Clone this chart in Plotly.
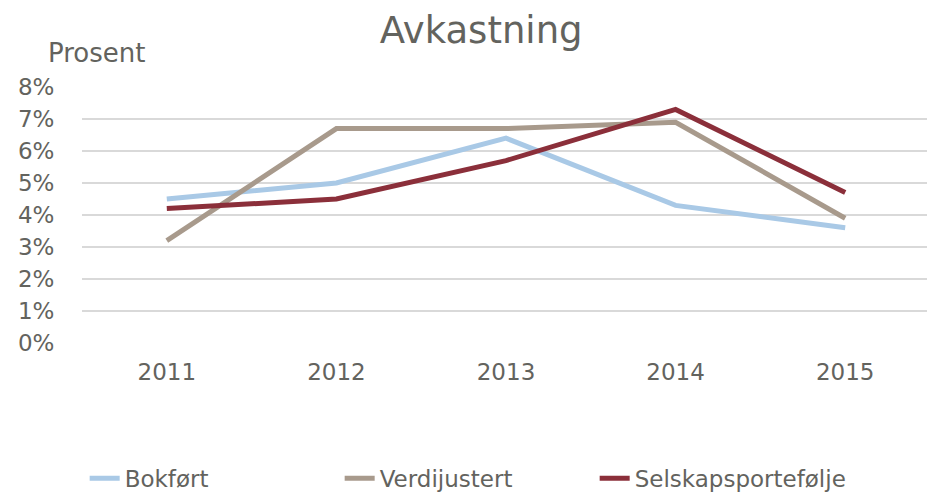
import plotly.graph_objects as go

years = ["2011", "2012", "2013", "2014", "2015"]
bokfort = [4.5, 5.0, 6.4, 4.3, 3.6]
verdijustert = [3.2, 6.7, 6.7, 6.9, 3.9]
selskap = [4.2, 4.5, 5.7, 7.3, 4.7]
y_ticks = [0, 1, 2, 3, 4, 5, 6, 7, 8]
y_labels = [f"{v}%" for v in y_ticks]

text_color = "#63635E"
font = "DejaVu Sans"

fig = go.Figure()
fig.add_trace(go.Scatter(x=years, y=bokfort, name="Bokført", mode="lines",
                         line=dict(color="#A9C9E6", width=5)))
fig.add_trace(go.Scatter(x=years, y=verdijustert, name="Verdijustert", mode="lines",
                         line=dict(color="#A89A8C", width=5)))
fig.add_trace(go.Scatter(x=years, y=selskap, name="Selskapsportefølje", mode="lines",
                         line=dict(color="#8B2F3A", width=5)))

# the page has an 8px body margin, so the figure is shifted to make up for it
fig.update_layout(
    width=935, height=495,
    margin=dict(l=74, r=13, t=79, b=160, autoexpand=False),
    paper_bgcolor="white", plot_bgcolor="white",
    font=dict(family=font, size=23, color=text_color),
    title=dict(text="Avkastning", x=0.506, xanchor="center", y=0.955, yanchor="middle",
               font=dict(size=37, color=text_color)),
    legend=dict(orientation="h", xref="container", x=0.082, xanchor="left",
                yref="container", y=0.050, yanchor="middle",
                font=dict(size=23, color=text_color), entrywidth=210),
    showlegend=True,
    annotations=[dict(text="Prosent", xref="paper", yref="paper", x=-0.043, y=1.133,
                      xanchor="left", yanchor="middle", showarrow=False,
                      font=dict(size=26, color=text_color))],
)
fig.update_xaxes(type="category", range=[-0.5, 4.5], showgrid=False, showline=False,
                 ticks="outside", ticklen=8, tickcolor="rgba(0,0,0,0)")
fig.update_yaxes(range=[0, 8], tickvals=y_ticks, ticktext=y_labels, showgrid=True,
                 gridcolor="#D9D9D9", gridwidth=2, zeroline=False, showline=False,
                 ticks="outside", ticklen=22, tickcolor="rgba(0,0,0,0)")

fig.write_html("out.html")
